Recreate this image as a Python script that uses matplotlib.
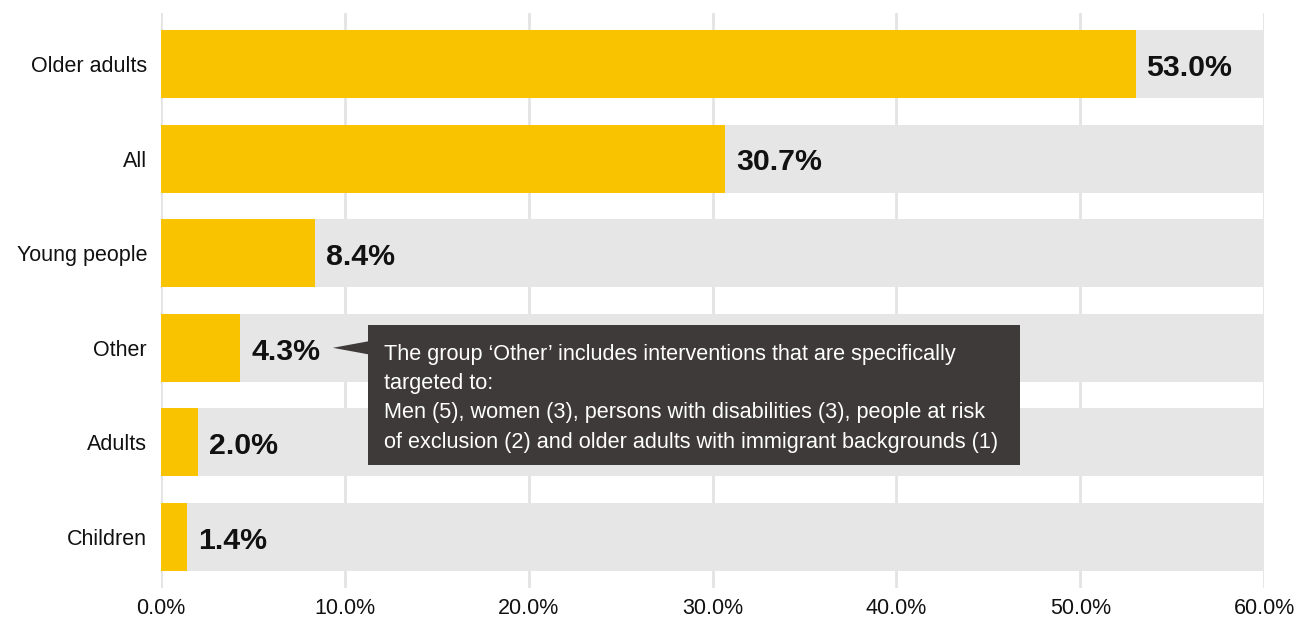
import matplotlib.pyplot as plt
from matplotlib.patches import Rectangle, Polygon
from matplotlib.ticker import FuncFormatter

plt.rcParams["font.family"] = ["Liberation Sans", "DejaVu Sans"]

# share of interventions per target group (%)
groups = ["Older adults", "All", "Young people", "Other", "Adults", "Children"]
shares = [53.0, 30.7, 8.4, 4.3, 2.0, 1.4]
x_max = 60
x_ticks = [0, 10, 20, 30, 40, 50, 60]

note_lines = [
    "The group \u2018Other\u2019 includes interventions that are specifically",
    "targeted to:",
    "Men (5), women (3), persons with disabilities (3), people at risk",
    "of exclusion (2) and older adults with immigrant backgrounds (1)",
]

yellow = "#f9c300"
track = "#e6e6e6"
dark = "#3d3a39"

fig, ax = plt.subplots(figsize=(12.98, 6.19), dpi=100)
fig.subplots_adjust(left=0.124, right=0.974, top=0.979, bottom=0.05)

pos = list(range(len(groups)))
bar_h = 0.72

ax.barh(pos, [x_max] * len(groups), height=bar_h, color=track, zorder=2)
ax.barh(pos, shares, height=bar_h, color=yellow, zorder=3)

for y, v in zip(pos, shares):
    ax.text(v + 0.6, y + 0.04, f"{v:.1f}%", va="center", ha="left",
            fontsize=21.8, fontweight="bold", color="#111111", zorder=4)

ax.set_xlim(0, x_max)
ax.set_ylim(len(groups) - 0.46, -0.54)
ax.set_xticks(x_ticks)
ax.xaxis.set_major_formatter(FuncFormatter(lambda v, _: f"{v:.1f}%"))
ax.set_yticks(pos)
ax.set_yticklabels(groups)
ax.tick_params(axis="both", length=0, labelsize=15.5, colors="#111111")
ax.tick_params(axis="y", pad=10)
ax.tick_params(axis="x", pad=7)
ax.grid(axis="x", color="#e3e3e3", linewidth=2, zorder=1)
ax.set_axisbelow(True)
for s in ax.spines.values():
    s.set_visible(False)

# callout explaining the 'Other' group
i_other = groups.index("Other")
box_x0, box_x1 = 11.26, 46.73
box_y0, box_y1 = i_other - 0.24, i_other + 1.24
ax.add_patch(Rectangle((box_x0, box_y0), box_x1 - box_x0, box_y1 - box_y0,
                       facecolor=dark, edgecolor="none", zorder=5, clip_on=False))
tip_x = shares[i_other] + 5.05
ax.add_patch(Polygon([(tip_x, i_other), (box_x0 + 0.05, i_other - 0.07),
                      (box_x0 + 0.05, i_other + 0.07)],
                     closed=True, facecolor=dark, edgecolor="none", zorder=5))
ax.text(box_x0 + 0.87, box_y0 + 0.195, "\n".join(note_lines), ha="left", va="top",
        fontsize=15.6, color="white", linespacing=1.52, zorder=6)

fig.savefig("out.png", dpi=100)
